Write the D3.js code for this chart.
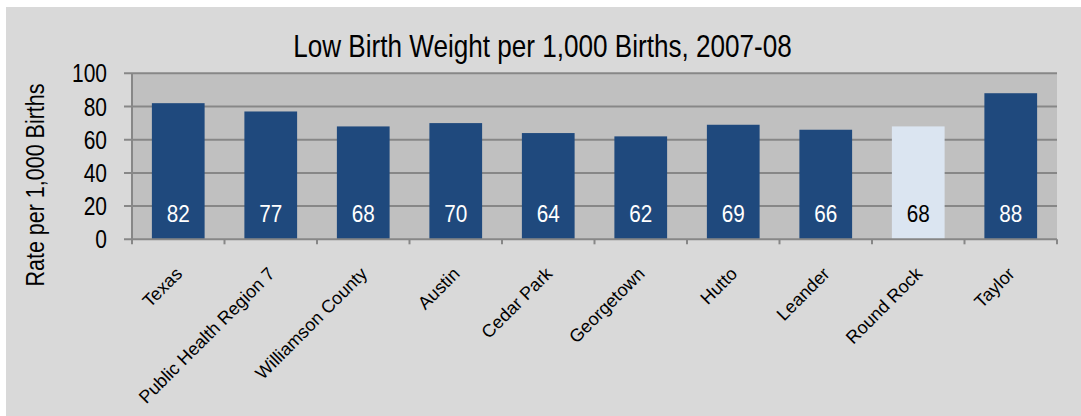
<!DOCTYPE html>
<html>
<head>
<meta charset="utf-8">
<script src="https://cdn.jsdelivr.net/npm/d3@7"></script>
<style>
  html, body { margin: 0; padding: 0; background: #ffffff; }
  svg { display: block; }
</style>
</head>
<body>
<script>
const categories = ["Texas", "Public Health Region 7", "Williamson County", "Austin", "Cedar Park", "Georgetown", "Hutto", "Leander", "Round Rock", "Taylor"];
const values = [82, 77, 68, 70, 64, 62, 69, 66, 68, 88];
const highlighted = ["Round Rock"];
const yTicks = [0, 20, 40, 60, 80, 100];
const title = "Low Birth Weight per 1,000 Births, 2007-08";
const yTitle = "Rate per 1,000 Births";

const W = 1081, H = 416;
const font = "'Liberation Sans', Arial, sans-serif";

const svg = d3.select("body").append("svg").attr("width", W).attr("height", H);
svg.append("rect").attr("x", 6).attr("y", 7).attr("width", W - 6).attr("height", H - 7).attr("fill", "#d9d9d9");

const plot = { left: 132, right: 1057, top: 73.3, bottom: 239.3 };
const x = d3.scaleBand().domain(categories).range([plot.left, plot.right]).paddingInner(0.43).paddingOuter(0.215);
const xb = d3.scaleBand().domain(categories).range([plot.left, plot.right]);
const y = d3.scaleLinear().domain([0, 100]).range([plot.bottom, plot.top]);

svg.append("rect").attr("x", plot.left).attr("y", plot.top)
  .attr("width", plot.right - plot.left).attr("height", plot.bottom - plot.top).attr("fill", "#c0c0c0");

const gridColor = "#878787";
svg.append("g").selectAll("line").data(yTicks.filter(d => d > 0)).join("line")
  .attr("x1", plot.left - 8).attr("x2", plot.right)
  .attr("y1", d => y(d)).attr("y2", d => y(d))
  .attr("stroke", gridColor).attr("stroke-width", 2);

svg.append("line").attr("x1", plot.left).attr("x2", plot.left)
  .attr("y1", plot.top).attr("y2", plot.bottom + 4)
  .attr("stroke", gridColor).attr("stroke-width", 2);

svg.append("g").selectAll("rect").data(categories).join("rect")
  .attr("x", d => x(d)).attr("width", x.bandwidth())
  .attr("y", (d, i) => y(values[i])).attr("height", (d, i) => y(0) - y(values[i]))
  .attr("fill", d => highlighted.includes(d) ? "#dbe5f1" : "#1f497d");

svg.append("line").attr("x1", plot.left - 8).attr("x2", plot.right)
  .attr("y1", y(0)).attr("y2", y(0))
  .attr("stroke", gridColor).attr("stroke-width", 2);
const bounds = categories.map(c => xb(c)).concat([plot.right]);
svg.append("g").selectAll("line").data(bounds).join("line")
  .attr("x1", d => d).attr("x2", d => d)
  .attr("y1", y(0)).attr("y2", y(0) + 5)
  .attr("stroke", gridColor).attr("stroke-width", 2);

// y tick labels (condensed)
svg.append("g").selectAll("text").data(yTicks).join("text")
  .attr("transform", d => `translate(107,${y(d) + 9}) scale(0.84,1)`)
  .attr("text-anchor", "end")
  .attr("font-family", font).attr("font-size", 25).attr("fill", "#000")
  .text(d => d);

// value labels
svg.append("g").selectAll("text").data(categories).join("text")
  .attr("transform", d => `translate(${x(d) + x.bandwidth() / 2},${y(0) - 17.6}) scale(0.84,1)`)
  .attr("text-anchor", "middle")
  .attr("font-family", font).attr("font-size", 24.7)
  .attr("fill", d => highlighted.includes(d) ? "#000" : "#fff")
  .text((d, i) => values[i]);

// x labels
svg.append("g").selectAll("text").data(categories).join("text")
  .attr("transform", d => `translate(${xb(d) + xb.bandwidth() / 2 + 5},275) rotate(-45)`)
  .attr("text-anchor", "end")
  .attr("font-family", font).attr("font-size", 18).attr("fill", "#000")
  .text(d => d);

// title
svg.append("text").attr("transform", "translate(542.5,57.3) scale(0.856,1)").attr("text-anchor", "middle")
  .attr("font-family", font).attr("font-size", 30.5).attr("fill", "#000")
  .text(title);

// y title
svg.append("text").attr("transform", "translate(44,185) rotate(-90) scale(0.86,1)")
  .attr("text-anchor", "middle")
  .attr("font-family", font).attr("font-size", 25).attr("fill", "#000")
  .text(yTitle);
</script>
</body>
</html>
